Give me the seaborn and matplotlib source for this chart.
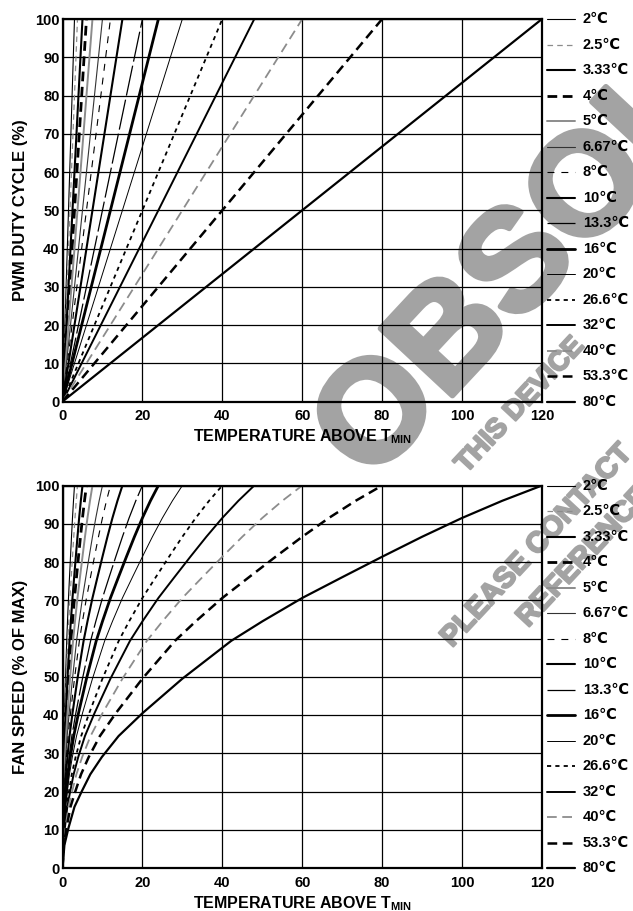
import numpy as np
import pandas as pd
import matplotlib
matplotlib.use("Agg")
import matplotlib.pyplot as plt
import matplotlib.transforms as mtransforms
import matplotlib.patheffects as pe
import seaborn as sns

# T_RANGE settings and the temperature above T_MIN at which each reaches 100 %
range_labels = ["2℃", "2.5℃", "3.33℃", "4℃", "5℃", "6.67℃", "8℃", "10℃",
                "13.3℃", "16℃", "20℃", "26.6℃", "32℃", "40℃", "53.3℃", "80℃"]
full_scale_temp = [3, 3.75, 5, 6, 7.5, 10, 12, 15, 20, 24, 30, 40, 48, 60, 80, 120]

# Fan response: fan speed (% of max) against PWM duty cycle (%)
duty_pts = [0, 0.4, 1.25, 2.5, 4, 5.8, 8.2, 11.7, 16.7, 25, 35.2, 41.7,
            50, 58.3, 66.7, 75, 83.3, 91.7, 100]
fan_pts = [0, 6, 10.5, 16, 20, 24.5, 29, 34.5, 40.5, 49.5, 59.4, 64.5,
           70.6, 76, 81.4, 86.6, 91.5, 96, 100]

x_ticks = [0, 20, 40, 60, 80, 100, 120]
y_ticks = [0, 10, 20, 30, 40, 50, 60, 70, 80, 90, 100]

# line appearance for each range
GRAY = "#8c8c8c"
line_colors = ["black", GRAY, "black", "black", GRAY, "#333333", "black", "black",
               "black", "black", "black", "black", "black", GRAY, "black", "black"]
line_widths = [0.8, 0.9, 1.5, 2.0, 1.4, 0.8, 0.8, 1.5,
               0.9, 2.0, 0.7, 1.3, 1.4, 1.3, 1.8, 1.6]
line_dashes = ["", (4, 3), "", (7, 4), "", "", (5, 5), "",
               (22, 3), "", "", (3, 3), "", (7, 4), (7, 4), ""]

# long-form tables for both panels
top_rows = []
bot_rows = []
for lab, t_end in zip(range_labels, full_scale_temp):
    top_rows.append({"range": lab, "temp": 0.0, "value": 0.0})
    top_rows.append({"range": lab, "temp": float(t_end), "value": 100.0})
    for d, f in zip(duty_pts, fan_pts):
        bot_rows.append({"range": lab, "temp": d / 100.0 * t_end, "value": f})
df_top = pd.DataFrame(top_rows)
df_bot = pd.DataFrame(bot_rows)

sns.set_theme(style="white")
plt.rcParams["font.family"] = ["Liberation Sans", "DejaVu Sans"]
plt.rcParams["font.weight"] = "bold"
plt.rcParams["mathtext.fontset"] = "custom"
plt.rcParams["mathtext.rm"] = "Liberation Sans:bold"
plt.rcParams["mathtext.it"] = "Liberation Sans:bold"
plt.rcParams["mathtext.bf"] = "Liberation Sans:bold"
plt.rcParams["lines.scale_dashes"] = False

FS = 10.5
XLABEL_FS = 11.5
YLABEL_FS = 12
WM_GRAY = "#a3a3a3"

fig = plt.figure(figsize=(6.33, 9.11), dpi=100)

# grey document watermark behind the charts
wm_style = dict(rotation=47, rotation_mode="anchor", ha="left", va="baseline",
                fontweight="bold", color=WM_GRAY, zorder=-1)
fig.text(370 / 633, 1 - 484 / 911, "OBSOLETE", fontsize=103,
         path_effects=[pe.withStroke(linewidth=4, foreground=WM_GRAY)], **wm_style)
fig.text(466 / 633, 1 - 474 / 911, "THIS DEVICE", fontsize=20,
         path_effects=[pe.withStroke(linewidth=1.5, foreground=WM_GRAY)], **wm_style)
fig.text(452 / 633, 1 - 648 / 911, "PLEASE CONTACT", fontsize=21,
         path_effects=[pe.withStroke(linewidth=1.5, foreground=WM_GRAY)], **wm_style)
fig.text(528 / 633, 1 - 628 / 911, "REFERENCE", fontsize=21,
         path_effects=[pe.withStroke(linewidth=1.5, foreground=WM_GRAY)], **wm_style)

ax_top = fig.add_axes([62.5 / 633, 1 - 401.5 / 911, 479.5 / 633, 382.5 / 911])
ax_bot = fig.add_axes([62.5 / 633, 1 - 868 / 911, 479.5 / 633, 382.5 / 911])

palette = dict(zip(range_labels, line_colors))
sizes = dict(zip(range_labels, line_widths))
dashes = dict(zip(range_labels, line_dashes))

for ax, df, ylab in [(ax_top, df_top, "PWM DUTY CYCLE (%)"),
                     (ax_bot, df_bot, "FAN SPEED (% OF MAX)")]:
    ax.set_facecolor("none")
    sns.lineplot(data=df, x="temp", y="value", hue="range", style="range",
                 size="range", hue_order=range_labels, style_order=range_labels,
                 size_order=range_labels, palette=palette, sizes=sizes,
                 dashes=dashes, estimator=None, sort=False, legend=False,
                 ax=ax, zorder=3)
    ax.set_xlim(0, 120)
    ax.set_ylim(0, 100)
    ax.set_xticks(x_ticks)
    ax.set_yticks(y_ticks)
    ax.grid(True, color="black", linewidth=0.9)
    ax.set_axisbelow(True)
    for sp in ax.spines.values():
        sp.set_color("black")
        sp.set_linewidth(1.6)
        sp.set_zorder(5)
    ax.tick_params(axis="x", length=0, pad=5.5, labelsize=FS, colors="black")
    ax.tick_params(axis="y", length=0, pad=2, labelsize=FS, colors="black")
    for lbl in ax.get_xticklabels() + ax.get_yticklabels():
        lbl.set_fontweight("bold")
    ax.set_xlabel(r"TEMPERATURE ABOVE T$_\mathrm{MIN}$", fontsize=XLABEL_FS,
                  fontweight="bold", color="black", labelpad=3)
    ax.set_ylabel(ylab, fontsize=YLABEL_FS, fontweight="bold", color="black",
                  labelpad=5)

    # key down the right-hand side, one row per range
    trans = mtransforms.blended_transform_factory(ax.transAxes, ax.transData)
    n = len(range_labels)
    for i, lab in enumerate(range_labels):
        yv = 100 - i * 100 / (n - 1)
        ls = "-" if dashes[lab] == "" else (0, dashes[lab])
        ax.plot([1.011, 1.069], [yv, yv], transform=trans, clip_on=False,
                color=palette[lab], linewidth=sizes[lab], linestyle=ls)
        ax.text(1.085, yv, lab, transform=trans, ha="left", va="center",
                fontsize=FS, fontweight="bold", color="black")

fig.savefig("out.png", dpi=100)
